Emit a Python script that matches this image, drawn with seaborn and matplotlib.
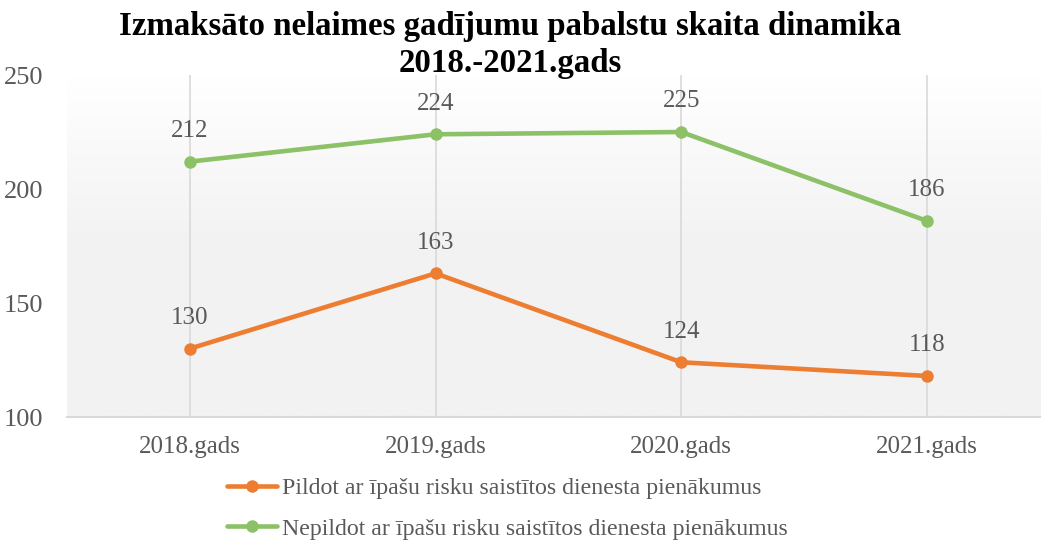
import numpy as np
import pandas as pd
import matplotlib
matplotlib.use("Agg")
import matplotlib.pyplot as plt
import seaborn as sns
from matplotlib.colors import LinearSegmentedColormap

categories = ["2018.gads", "2019.gads", "2020.gads", "2021.gads"]
series_names = ["Pildot ar īpašu risku saistītos dienesta pienākumus",
                "Nepildot ar īpašu risku saistītos dienesta pienākumus"]
pildot = [130, 163, 124, 118]
nepildot = [212, 224, 225, 186]
title = "Izmaksāto nelaimes gadījumu pabalstu skaita dinamika\n2018.-2021.gads"
colors = ["#ED7D31", "#8CC168"]

sns.set_theme(style="white")
plt.rcParams['font.family'] = ['Liberation Serif', 'DejaVu Serif']

rows = []
for name, vals in zip(series_names, [pildot, nepildot]):
    for i, v in enumerate(vals):
        rows.append({"x": i, "y": v, "series": name})
df = pd.DataFrame(rows)

fig = plt.figure(figsize=(10.41, 5.40), dpi=100)
ax = fig.add_axes([67/1041, 1-417/540, 1-67/1041, (417-75)/540])

xmin, xmax = -0.5, 3.464
ymin, ymax = 100, 250
grad = np.linspace(0, 1, 256).reshape(-1, 1)
cmap = LinearSegmentedColormap.from_list("bg", ["#f2f2f2", "#f2f2f2", "#ffffff"])
ax.imshow(grad, extent=[xmin, xmax, ymin, ymax], origin="lower", aspect="auto",
          cmap=cmap, zorder=0)

for i in range(len(categories)):
    ax.axvline(i, color="#d9d9d9", lw=1.2, zorder=1)

sns.lineplot(data=df, x="x", y="y", hue="series", palette=colors, marker="o",
             markersize=9, markeredgewidth=0, linewidth=3.3, ax=ax, zorder=3,
             legend=True)

for vals in [pildot, nepildot]:
    for i, v in enumerate(vals):
        ax.annotate(str(v), (i, v), xytext=(0, 22), textcoords="offset points",
                    ha="center", va="center", fontsize=18, color="#595959")

ax.set_xlim(xmin, xmax)
ax.set_ylim(ymin, ymax)
ax.set_xticks(range(len(categories)))
ax.set_xticklabels(categories)
ax.set_yticks([100, 150, 200, 250])
ax.tick_params(axis="both", length=0, labelsize=18, labelcolor="#595959")
ax.tick_params(axis="y", labelsize=19)
ax.tick_params(axis="x", pad=14)
ax.tick_params(axis="y", pad=17)
ax.set_xlabel("")
ax.set_ylabel("")
for s in ["top", "right", "left"]:
    ax.spines[s].set_visible(False)
ax.spines["bottom"].set_color("#d9d9d9")
ax.spines["bottom"].set_linewidth(1.5)
ax.spines["bottom"].set_zorder(2)

handles, labels = ax.get_legend_handles_labels()
ax.legend_.remove()
fig.legend(handles, labels, loc="upper left", bbox_to_anchor=(217/1041, 1-468/540),
           frameon=False, fontsize=17.2, labelcolor="#595959", handlelength=2.1,
           handletextpad=0.2, labelspacing=0.78, borderaxespad=0)

fig.text(510/1041, 1-11/540, title, ha="center", va="top", fontsize=23.7,
         fontweight="bold", color="black", linespacing=1.24)

fig.savefig("out.png", dpi=100)
